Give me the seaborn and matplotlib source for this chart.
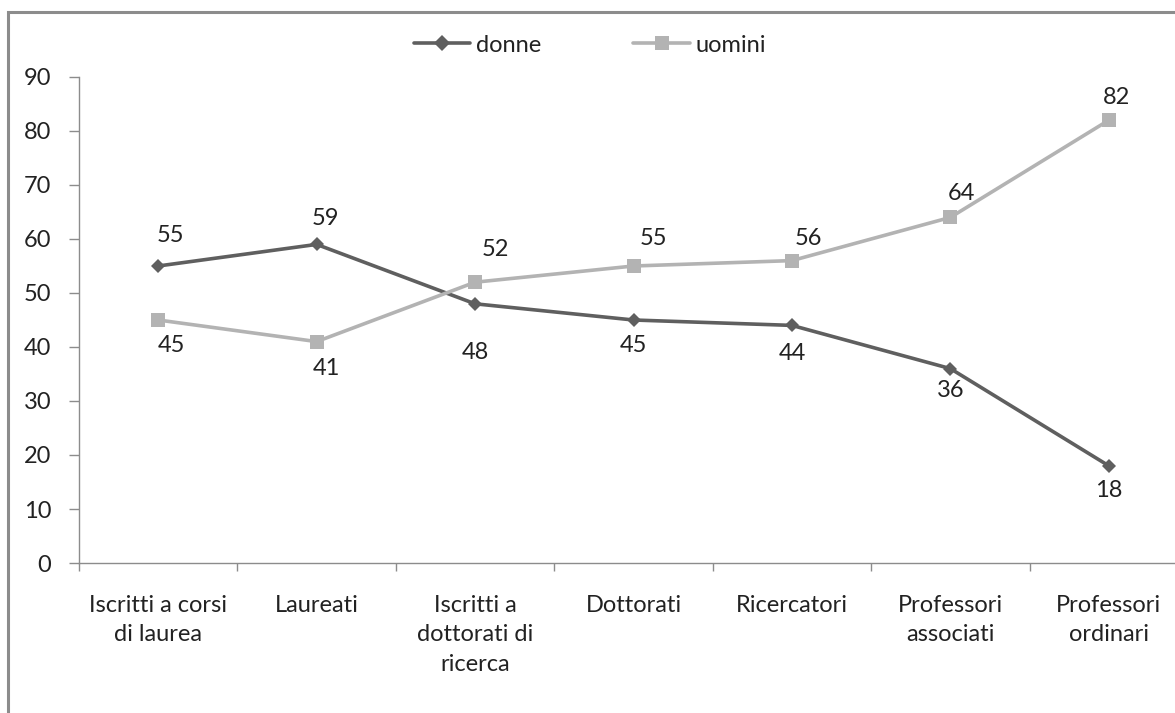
import pandas as pd
import matplotlib.pyplot as plt
import seaborn as sns
from matplotlib.patches import Rectangle

categories = [
    'Iscritti a corsi\ndi laurea',
    'Laureati',
    'Iscritti a\ndottorati di\nricerca',
    'Dottorati',
    'Ricercatori',
    'Professori\nassociati',
    'Professori\nordinari',
]
donne = [55, 59, 48, 45, 44, 36, 18]
uomini = [45, 41, 52, 55, 56, 64, 82]
y_ticks = [0, 10, 20, 30, 40, 50, 60, 70, 80, 90]

# label placement (pixels): dx, dy
donne_off = [(12, 30), (9, 26), (0, -49), (0, -26), (0, -28), (0, -22), (0, -25)]
uomini_off = [(13, -26), (10, -27), (20, 33), (20, 27), (17, 22), (11, 24), (8, 23)]

df = pd.DataFrame({
    'cat': categories * 2,
    'val': donne + uomini,
    'serie': ['donne'] * 7 + ['uomini'] * 7,
})

sns.set_style('white')
plt.rcParams['font.family'] = ['Lato', 'DejaVu Sans']
fs = 17

fig = plt.figure(figsize=(11.75, 7.13), dpi=100)
ax = fig.add_axes([79 / 1175, 1 - 563 / 713, (1188 - 79) / 1175, (563 - 77) / 713])

palette = {'donne': '#5f5f5f', 'uomini': '#b3b3b3'}
sns.lineplot(data=df, x='cat', y='val', hue='serie', style='serie',
             markers={'donne': 'D', 'uomini': 's'}, dashes=False,
             palette=palette, linewidth=2.6, sort=False, ax=ax,
             markeredgewidth=0)
for line in ax.lines:
    if line.get_marker() == 'D':
        line.set_markersize(7)
    elif line.get_marker() == 's':
        line.set_markersize(10)

ax.set_xlim(-0.5, 6.5)
ax.set_ylim(0, 90)
ax.set_yticks(y_ticks)
ax.set_yticklabels([str(t) for t in y_ticks])
ax.set_xticks([i - 0.5 for i in range(8)])
ax.set_xticklabels([])
ax.set_xticks(range(7), minor=True)
ax.set_xticklabels(categories, minor=True, fontsize=fs, color='#222222',
                   linespacing=1.5, va='top')
ax.tick_params(axis='x', which='major', bottom=True, length=6, width=1,
               color='#8c8c8c', direction='out')
ax.tick_params(axis='x', which='minor', bottom=True, length=0, pad=23)
ax.tick_params(axis='y', left=True, length=7, width=1, color='#8c8c8c', direction='out',
               pad=13, labelsize=fs, labelcolor='#222222')
ax.set_xlabel('')
ax.set_ylabel('')
for s in ['top', 'right']:
    ax.spines[s].set_visible(False)
for s in ['left', 'bottom']:
    ax.spines[s].set_color('#8c8c8c')
    ax.spines[s].set_linewidth(1)

for i, v in enumerate(donne):
    dx, dy = donne_off[i]
    ax.annotate(str(v), (i, v), xytext=(dx * 0.72, dy * 0.72), textcoords='offset points',
                ha='center', va='center', fontsize=fs, color='#222222')
for i, v in enumerate(uomini):
    dx, dy = uomini_off[i]
    ax.annotate(str(v), (i, v), xytext=(dx * 0.72, dy * 0.72), textcoords='offset points',
                ha='center', va='center', fontsize=fs, color='#222222')

handles, labels = ax.get_legend_handles_labels()
ax.legend_.remove()
for h in handles:
    h.set_linewidth(2.6)
    h.set_markeredgewidth(0)
    h.set_markersize(10 if h.get_marker() == 's' else 8)
fig.legend(handles, labels, loc='center', bbox_to_anchor=(590 / 1175, 1 - 45 / 713),
           ncol=2, frameon=False, fontsize=fs, handlelength=2.4,
           handletextpad=0.25, columnspacing=3.9, labelcolor='#222222')

fig.add_artist(Rectangle((8 / 1175, -0.05), 1.2, 1.05 - 12 / 713, transform=fig.transFigure,
                         fill=False, edgecolor='#8c8c8c', linewidth=2.2))

fig.savefig('out.png', dpi=100)
